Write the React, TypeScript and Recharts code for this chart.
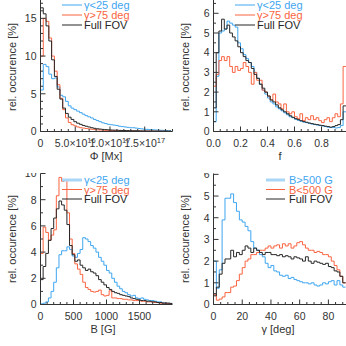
import React from "react";
import { LineChart, Line, XAxis, YAxis } from "recharts";

const BLUE = "#3fa6f0";
const ORANGE = "#fa6441";
const BLACK = "#262626";
const AXIS = "#333333";
const FONT = "'Liberation Sans', Arial, sans-serif";

// ---------- Panel 1: magnetic flux (units of 1e16 Mx), bins of 0.4 ----------
const phiBinWidth = 0.4;
const phiLow = [
  5.5, 8.9, 8.6, 7.6, 7.0, 7.1, 5.9, 4.8, 4.6, 4.0,
  3.4, 3.1, 2.9, 2.7, 2.5, 2.3, 2.1, 1.95, 1.8, 1.6,
  1.45, 1.3, 1.15, 1.05, 0.95, 0.9, 0.85, 0.8, 0.7, 0.65,
  0.6, 0.55, 0.5, 0.5, 0.45, 0.4, 0.35, 0.3, 0.28, 0.25,
  0.22, 0.2, 0.18, 0.16, 0.15, 0.13, 0.12,
];
const phiHigh = [
  10.0, 15.0, 14.6, 12.4, 10.0, 8.0, 6.2, 4.4, 2.9, 1.8,
  1.2, 0.9, 0.75, 0.6, 0.5, 0.45, 0.4, 0.35, 0.3, 0.25,
  0.22, 0.2, 0.18, 0.15, 0.14, 0.12, 0.11, 0.1, 0.09, 0.08,
  0.08, 0.07, 0.07, 0.06, 0.06, 0.05, 0.05, 0.05, 0.04, 0.04,
  0.04, 0.03, 0.03, 0.03, 0.03, 0.02, 0.02,
];
const phiFull = [
  16.4, 15.6, 14.0, 12.0, 9.5, 7.3, 5.6, 4.3, 3.1, 2.4,
  1.9, 1.6, 1.3, 1.1, 0.95, 0.8, 0.7, 0.6, 0.5, 0.42,
  0.36, 0.32, 0.28, 0.25, 0.22, 0.2, 0.18, 0.17, 0.15, 0.14,
  0.13, 0.12, 0.11, 0.1, 0.1, 0.09, 0.08, 0.08, 0.07, 0.07,
  0.06, 0.06, 0.05, 0.05, 0.05, 0.04, 0.04,
];

// ---------- Panel 2: filling factor f, bins of 0.02 ----------
const fBinWidth = 0.02;
const fLow = [
  0.5, 2.8, 5.0, 5.1, 5.2, 5.6, 5.5, 5.4, 5.3, 4.5,
  4.2, 3.9, 3.7, 3.5, 3.3, 3.0, 2.7, 2.4, 2.1, 1.9,
  1.7, 1.5, 1.4, 1.25, 1.15, 1.05, 0.95, 0.85, 0.75, 0.7,
  0.62, 0.57, 0.52, 0.48, 0.45, 0.42, 0.38, 0.35, 0.33, 0.3,
  0.28, 0.25, 0.22, 0.2, 0.2, 0.18, 0.2, 0.3, 1.0, 1.0,
];
const fHigh = [
  2.3, 2.9, 3.6, 3.8, 3.6, 3.8, 3.3, 3.0, 3.3, 3.1,
  3.2, 3.5, 3.3, 3.0, 2.4, 3.0, 2.6, 2.6, 2.1, 2.0,
  1.8, 1.6, 1.9, 1.5, 1.4, 1.15, 1.4, 1.0, 0.9, 1.0,
  0.75, 0.65, 0.9, 0.55, 0.7, 0.6, 0.8, 0.6, 0.7, 0.55,
  0.45, 0.6, 0.7, 0.5, 0.7, 0.9, 0.75, 1.4, 3.3, 3.3,
];
const fFull = [
  1.2, 4.0, 5.1, 5.7, 5.2, 5.4, 5.0, 4.8, 4.6, 4.3,
  4.0, 3.8, 3.6, 3.5, 3.2, 2.9, 2.7, 2.4, 2.2, 2.0,
  1.8, 1.6, 1.5, 1.35, 1.2, 1.1, 1.0, 0.9, 0.8, 0.72,
  0.65, 0.6, 0.55, 0.5, 0.47, 0.43, 0.4, 0.37, 0.35, 0.32,
  0.3, 0.27, 0.25, 0.22, 0.25, 0.3, 0.35, 0.6, 1.3, 1.3,
];

// ---------- Panel 3: field strength B [G], bins of 40 G ----------
const bBinWidth = 40;
const bLow = [
  0.05, 0.1, 0.2, 0.5, 1.0, 1.7, 2.8, 3.8, 4.1, 4.1,
  4.4, 4.2, 3.7, 3.6, 3.9, 4.2, 5.1, 5.0, 4.8, 4.5,
  4.3, 4.0, 3.6, 3.3, 3.0, 2.6, 2.4, 2.0, 1.7, 1.4,
  1.2, 1.0, 0.9, 0.75, 0.65, 0.7, 0.5, 0.45, 0.5, 0.4,
  0.35, 0.3, 0.3, 0.25, 0.2, 0.2, 0.15, 0.1, 0.1, 0.08,
];
const bHigh = [
  3.9, 5.9, 5.5, 4.9, 5.3, 5.7, 8.3, 9.7, 9.4, 9.5,
  7.0, 5.0, 3.9, 3.1, 2.7, 2.3, 1.7, 1.3, 1.15, 1.0,
  0.95, 1.0, 1.1, 0.75, 0.65, 0.7, 1.05, 0.5, 0.5, 0.45,
  0.45, 0.4, 0.4, 0.35, 0.35, 0.3, 0.3, 0.3, 0.25, 0.25,
  0.2, 0.2, 0.2, 0.15, 0.15, 0.1, 0.1, 0.1, 0.08, 0.05,
];
const bFull = [
  1.9, 2.9, 3.9, 4.9, 5.8, 6.6, 7.3, 7.9, 7.6, 7.2,
  6.1, 4.5, 3.8, 3.3, 3.4, 3.0, 2.8, 2.6, 2.7, 2.5,
  2.4, 2.2, 1.9, 1.7, 1.5, 1.3, 1.15, 1.0, 0.9, 0.85,
  0.75, 0.7, 0.65, 0.6, 0.5, 0.45, 0.4, 0.35, 0.3, 0.3,
  0.25, 0.25, 0.2, 0.2, 0.15, 0.15, 0.1, 0.1, 0.1, 0.08,
];

// ---------- Panel 4: inclination gamma [deg], bins of 2 deg ----------
const gBinWidth = 2;
const gStrong = [
  2.0, 0.75, 1.6, 3.9, 4.9, 4.9, 5.1, 4.7, 4.3, 3.9,
  3.8, 3.6, 3.4, 2.9, 2.6, 2.5, 2.3, 2.2, 1.9, 1.7,
  1.8, 1.55, 1.5, 1.35, 1.3, 1.35, 1.2, 1.25, 1.15, 1.1,
  1.05, 1.0, 1.0, 0.95, 1.0, 0.9, 0.85, 0.9, 1.0, 0.95,
  1.05, 1.1, 0.9, 1.1, 0.9, 0.8,
];
const gWeak = [
  0.45, 0.2, 0.25, 0.35, 0.55, 0.55, 0.8, 0.85, 1.1, 1.4,
  1.7, 2.0, 2.1, 2.3, 2.3, 2.4, 2.5, 2.5, 2.6, 2.7,
  2.6, 2.7, 2.75, 2.6, 2.8, 2.7, 2.8, 2.6, 2.7, 2.85,
  2.9, 2.75, 2.6, 2.5, 2.5, 2.4, 2.45, 2.4, 2.3, 2.3,
  2.2, 2.0, 1.8, 1.6, 1.3, 1.0,
];
const gFull = [
  0.4, 0.8, 1.4, 1.9, 2.1, 2.1, 2.5, 2.2, 2.4, 2.3,
  2.5, 2.7, 2.6, 2.4, 2.6, 2.5, 2.4, 2.3, 2.4, 2.4,
  2.3, 2.3, 2.25, 2.3, 2.2, 2.25, 2.2, 2.1, 2.2, 2.15,
  2.1, 2.0, 2.2, 2.0, 1.9, 2.0, 1.95, 1.9, 1.85, 1.9,
  1.75, 1.7, 1.55, 1.5, 1.3, 1.0,
];

// ---------- tick labels ----------
const phiMajorTicks = [0, 5, 10, 15];
const phiTickLabels: Record<number, [string, string]> = {
  0: ["0", ""],
  5: ["5.0×10", "16"],
  10: ["1.0×10", "17"],
  15: ["1.5×10", "17"],
};
const fMajorTicks = [0, 0.2, 0.4, 0.6, 0.8];
const fTickLabels = ["0.0", "0.2", "0.4", "0.6", "0.8"];
const bMajorTicks = [0, 500, 1000, 1500];
const gMajorTicks = [0, 20, 40, 60, 80];

const legendTheta = ["γ<25 deg", "γ>75 deg", "Full FOV"];
const legendB = ["B>500 G", "B<500 G", "Full FOV"];
const yTitle = "rel. occurence [%]";

// ---------- helpers ----------
function range(a: number, b: number, s: number): number[] {
  const out: number[] = [];
  for (let i = 0; a + i * s <= b + 1e-9; i++) out.push(Math.round((a + i * s) * 1e6) / 1e6);
  return out;
}

function histRows(width: number, a: number[], b: number[], c: number[]) {
  const rows = a.map((_, i) => ({ x: i * width, a: a[i], b: b[i], c: c[i] }));
  const n = a.length;
  rows.push({ x: n * width, a: a[n - 1], b: b[n - 1], c: c[n - 1] });
  return rows;
}

type Side = "bottom" | "top" | "left" | "right";

function makeTick(side: Side, majors: number[], label?: (v: number) => React.ReactNode) {
  return (props: any) => {
    const { x, y, payload } = props;
    const v = payload.value as number;
    const major = majors.some((m) => Math.abs(m - v) < 1e-6);
    const len = major ? 5 : 2.5;
    let l: React.ReactNode = null;
    if (side === "bottom") l = <line x1={x} y1={y} x2={x} y2={y - len} stroke={AXIS} />;
    if (side === "top") l = <line x1={x} y1={y} x2={x} y2={y + len} stroke={AXIS} />;
    if (side === "left") l = <line x1={x} y1={y} x2={x + len} y2={y} stroke={AXIS} />;
    if (side === "right") l = <line x1={x} y1={y} x2={x - len} y2={y} stroke={AXIS} />;
    let t: React.ReactNode = null;
    if (major && label) {
      const content = label(v);
      if (side === "bottom")
        t = (
          <text x={x} y={y + 15} textAnchor="middle" fontSize={10.5} fontFamily={FONT} fill={AXIS}>
            {content}
          </text>
        );
      if (side === "left")
        t = (
          <text x={x - 4} y={y + 3.8} textAnchor="end" fontSize={10.5} fontFamily={FONT} fill={AXIS}>
            {content}
          </text>
        );
    }
    return (
      <g>
        {l}
        {t}
      </g>
    );
  };
}

type PanelProps = {
  left: number;
  top: number;
  width: number;
  height: number;
  rows: any[];
  xDomain: [number, number];
  yDomain: [number, number];
  xTicks: number[];
  xMajor: number[];
  xLabel: (v: number) => React.ReactNode;
  yTicks: number[];
  yMajor: number[];
};

function Panel(p: PanelProps) {
  return (
    <div style={{ position: "absolute", left: p.left, top: p.top, width: p.width, height: p.height }}>
      <LineChart
        width={p.width}
        height={p.height}
        data={p.rows}
        margin={{ top: 0.5, right: 0.5, bottom: 0.5, left: 0.5 }}
      >
        <XAxis
          dataKey="x"
          type="number"
          domain={p.xDomain}
          allowDataOverflow
          ticks={p.xTicks}
          interval={0}
          tickLine={false}
          tickSize={0}
          tickMargin={0}
          height={40}
          axisLine={{ stroke: AXIS }}
          tick={makeTick("bottom", p.xMajor, p.xLabel)}
        />
        <XAxis
          xAxisId="top"
          orientation="top"
          dataKey="x"
          type="number"
          domain={p.xDomain}
          allowDataOverflow
          ticks={p.xTicks}
          interval={0}
          tickLine={false}
          tickSize={0}
          tickMargin={0}
          height={0}
          axisLine={{ stroke: AXIS }}
          tick={makeTick("top", p.xMajor)}
        />
        <YAxis
          type="number"
          domain={p.yDomain}
          allowDataOverflow
          ticks={p.yTicks}
          interval={0}
          tickLine={false}
          tickSize={0}
          tickMargin={0}
          width={40}
          axisLine={{ stroke: AXIS }}
          tick={makeTick("left", p.yMajor, (v) => String(v))}
        />
        <YAxis
          yAxisId="right"
          orientation="right"
          type="number"
          domain={p.yDomain}
          allowDataOverflow
          ticks={p.yTicks}
          interval={0}
          tickLine={false}
          tickSize={0}
          tickMargin={0}
          width={0}
          axisLine={{ stroke: AXIS }}
          tick={makeTick("right", p.yMajor)}
        />
        <Line dataKey="a" type="stepAfter" stroke={BLUE} strokeWidth={1} dot={false} isAnimationActive={false} />
        <Line dataKey="b" type="stepAfter" stroke={ORANGE} strokeWidth={1} dot={false} isAnimationActive={false} />
        <Line dataKey="c" type="stepAfter" stroke={BLACK} strokeWidth={1} dot={false} isAnimationActive={false} />
      </LineChart>
    </div>
  );
}

function LegendBlock(props: { x0: number; x1: number; tx: number; ys: number[]; labels: string[]; thickBlue?: boolean }) {
  const colors = [BLUE, ORANGE, BLACK];
  return (
    <g>
      {props.labels.map((lab, i) => (
        <g key={lab}>
          <line
            x1={props.x0}
            x2={props.x1}
            y1={props.ys[i]}
            y2={props.ys[i]}
            stroke={i === 0 && props.thickBlue ? "#a9d6f7" : colors[i]}
            strokeWidth={i === 0 && props.thickBlue ? 3 : 1}
          />
          <text x={props.tx} y={props.ys[i] + 4} fontSize={11} fontFamily={FONT} fill={colors[i]}>
            {lab}
          </text>
        </g>
      ))}
    </g>
  );
}

export default function App() {
  const phiRows = histRows(phiBinWidth, phiLow, phiHigh, phiFull);
  const fRows = histRows(fBinWidth, fLow, fHigh, fFull);
  const bRows = histRows(bBinWidth, bLow, bHigh, bFull);
  const gRows = histRows(gBinWidth, gStrong, gWeak, gFull);

  return (
    <div
      style={{
        position: "fixed",
        left: 0,
        top: 0,
        width: 346,
        height: 346,
        overflow: "hidden",
        background: "#ffffff",
      }}
    >
      <Panel
        left={0}
        top={-1}
        width={173}
        height={173}
        rows={phiRows}
        xDomain={[0, 19]}
        yDomain={[0, 17.5]}
        xTicks={range(0, 19, 1)}
        xMajor={phiMajorTicks}
        xLabel={(v) => {
          const lab = phiTickLabels[v];
          return lab[1] ? (
            <>
              <tspan>{lab[0]}</tspan>
              <tspan dy={-4} fontSize={7.5}>
                {lab[1]}
              </tspan>
            </>
          ) : (
            lab[0]
          );
        }}
        yTicks={range(0, 17, 1)}
        yMajor={[0, 5, 10, 15]}
      />
      <Panel
        left={173}
        top={-1}
        width={176}
        height={173}
        rows={fRows}
        xDomain={[0, 1]}
        yDomain={[0, 6.7]}
        xTicks={range(0, 1, 0.05)}
        xMajor={fMajorTicks}
        xLabel={(v) => fTickLabels[fMajorTicks.findIndex((m) => Math.abs(m - v) < 1e-6)]}
        yTicks={range(0, 6.5, 0.5)}
        yMajor={[0, 1, 2, 3, 4, 5, 6]}
      />
      <Panel
        left={0}
        top={173}
        width={173}
        height={172}
        rows={bRows}
        xDomain={[0, 2000]}
        yDomain={[0, 10]}
        xTicks={range(0, 1900, 100)}
        xMajor={bMajorTicks}
        xLabel={(v) => String(v)}
        yTicks={range(0, 10, 1)}
        yMajor={[0, 2, 4, 6, 8, 10]}
      />
      <Panel
        left={173}
        top={173}
        width={176}
        height={172}
        rows={gRows}
        xDomain={[0, 94]}
        yDomain={[0, 6.04]}
        xTicks={range(0, 90, 5)}
        xMajor={gMajorTicks}
        xLabel={(v) => String(v)}
        yTicks={range(0, 6, 0.5)}
        yMajor={[0, 1, 2, 3, 4, 5, 6]}
      />
      <svg
        width={346}
        height={346}
        style={{ position: "absolute", left: 0, top: 0, pointerEvents: "none" }}
      >
        <LegendBlock x0={62} x1={82} tx={84} ys={[5, 15, 25]} labels={legendTheta} />
        <LegendBlock x0={235} x1={255} tx={257} ys={[5, 15, 25]} labels={legendTheta} />
        <LegendBlock x0={62} x1={82} tx={84} ys={[180, 189.5, 199]} labels={legendTheta} thickBlue />
        <LegendBlock x0={266} x1={285} tx={289} ys={[180, 189.5, 199]} labels={legendB} thickBlue />

        <text x={106} y={160} textAnchor="middle" fontSize={11} fontFamily={FONT} fill={AXIS}>
          Φ [Mx]
        </text>
        <text x={280} y={160} textAnchor="middle" fontSize={11} fontFamily={FONT} fill={AXIS}>
          f
        </text>
        <text x={103} y={333} textAnchor="middle" fontSize={11} fontFamily={FONT} fill={AXIS}>
          B [G]
        </text>
        <text x={278} y={333} textAnchor="middle" fontSize={11} fontFamily={FONT} fill={AXIS}>
          γ [deg]
        </text>

        <text transform="translate(16,67) rotate(-90)" textAnchor="middle" fontSize={11} fontFamily={FONT} fill={AXIS}>
          {yTitle}
        </text>
        <text transform="translate(189,67) rotate(-90)" textAnchor="middle" fontSize={11} fontFamily={FONT} fill={AXIS}>
          {yTitle}
        </text>
        <text transform="translate(16,239) rotate(-90)" textAnchor="middle" fontSize={11} fontFamily={FONT} fill={AXIS}>
          {yTitle}
        </text>
        <text transform="translate(189,239) rotate(-90)" textAnchor="middle" fontSize={11} fontFamily={FONT} fill={AXIS}>
          {yTitle}
        </text>
      </svg>
    </div>
  );
}
